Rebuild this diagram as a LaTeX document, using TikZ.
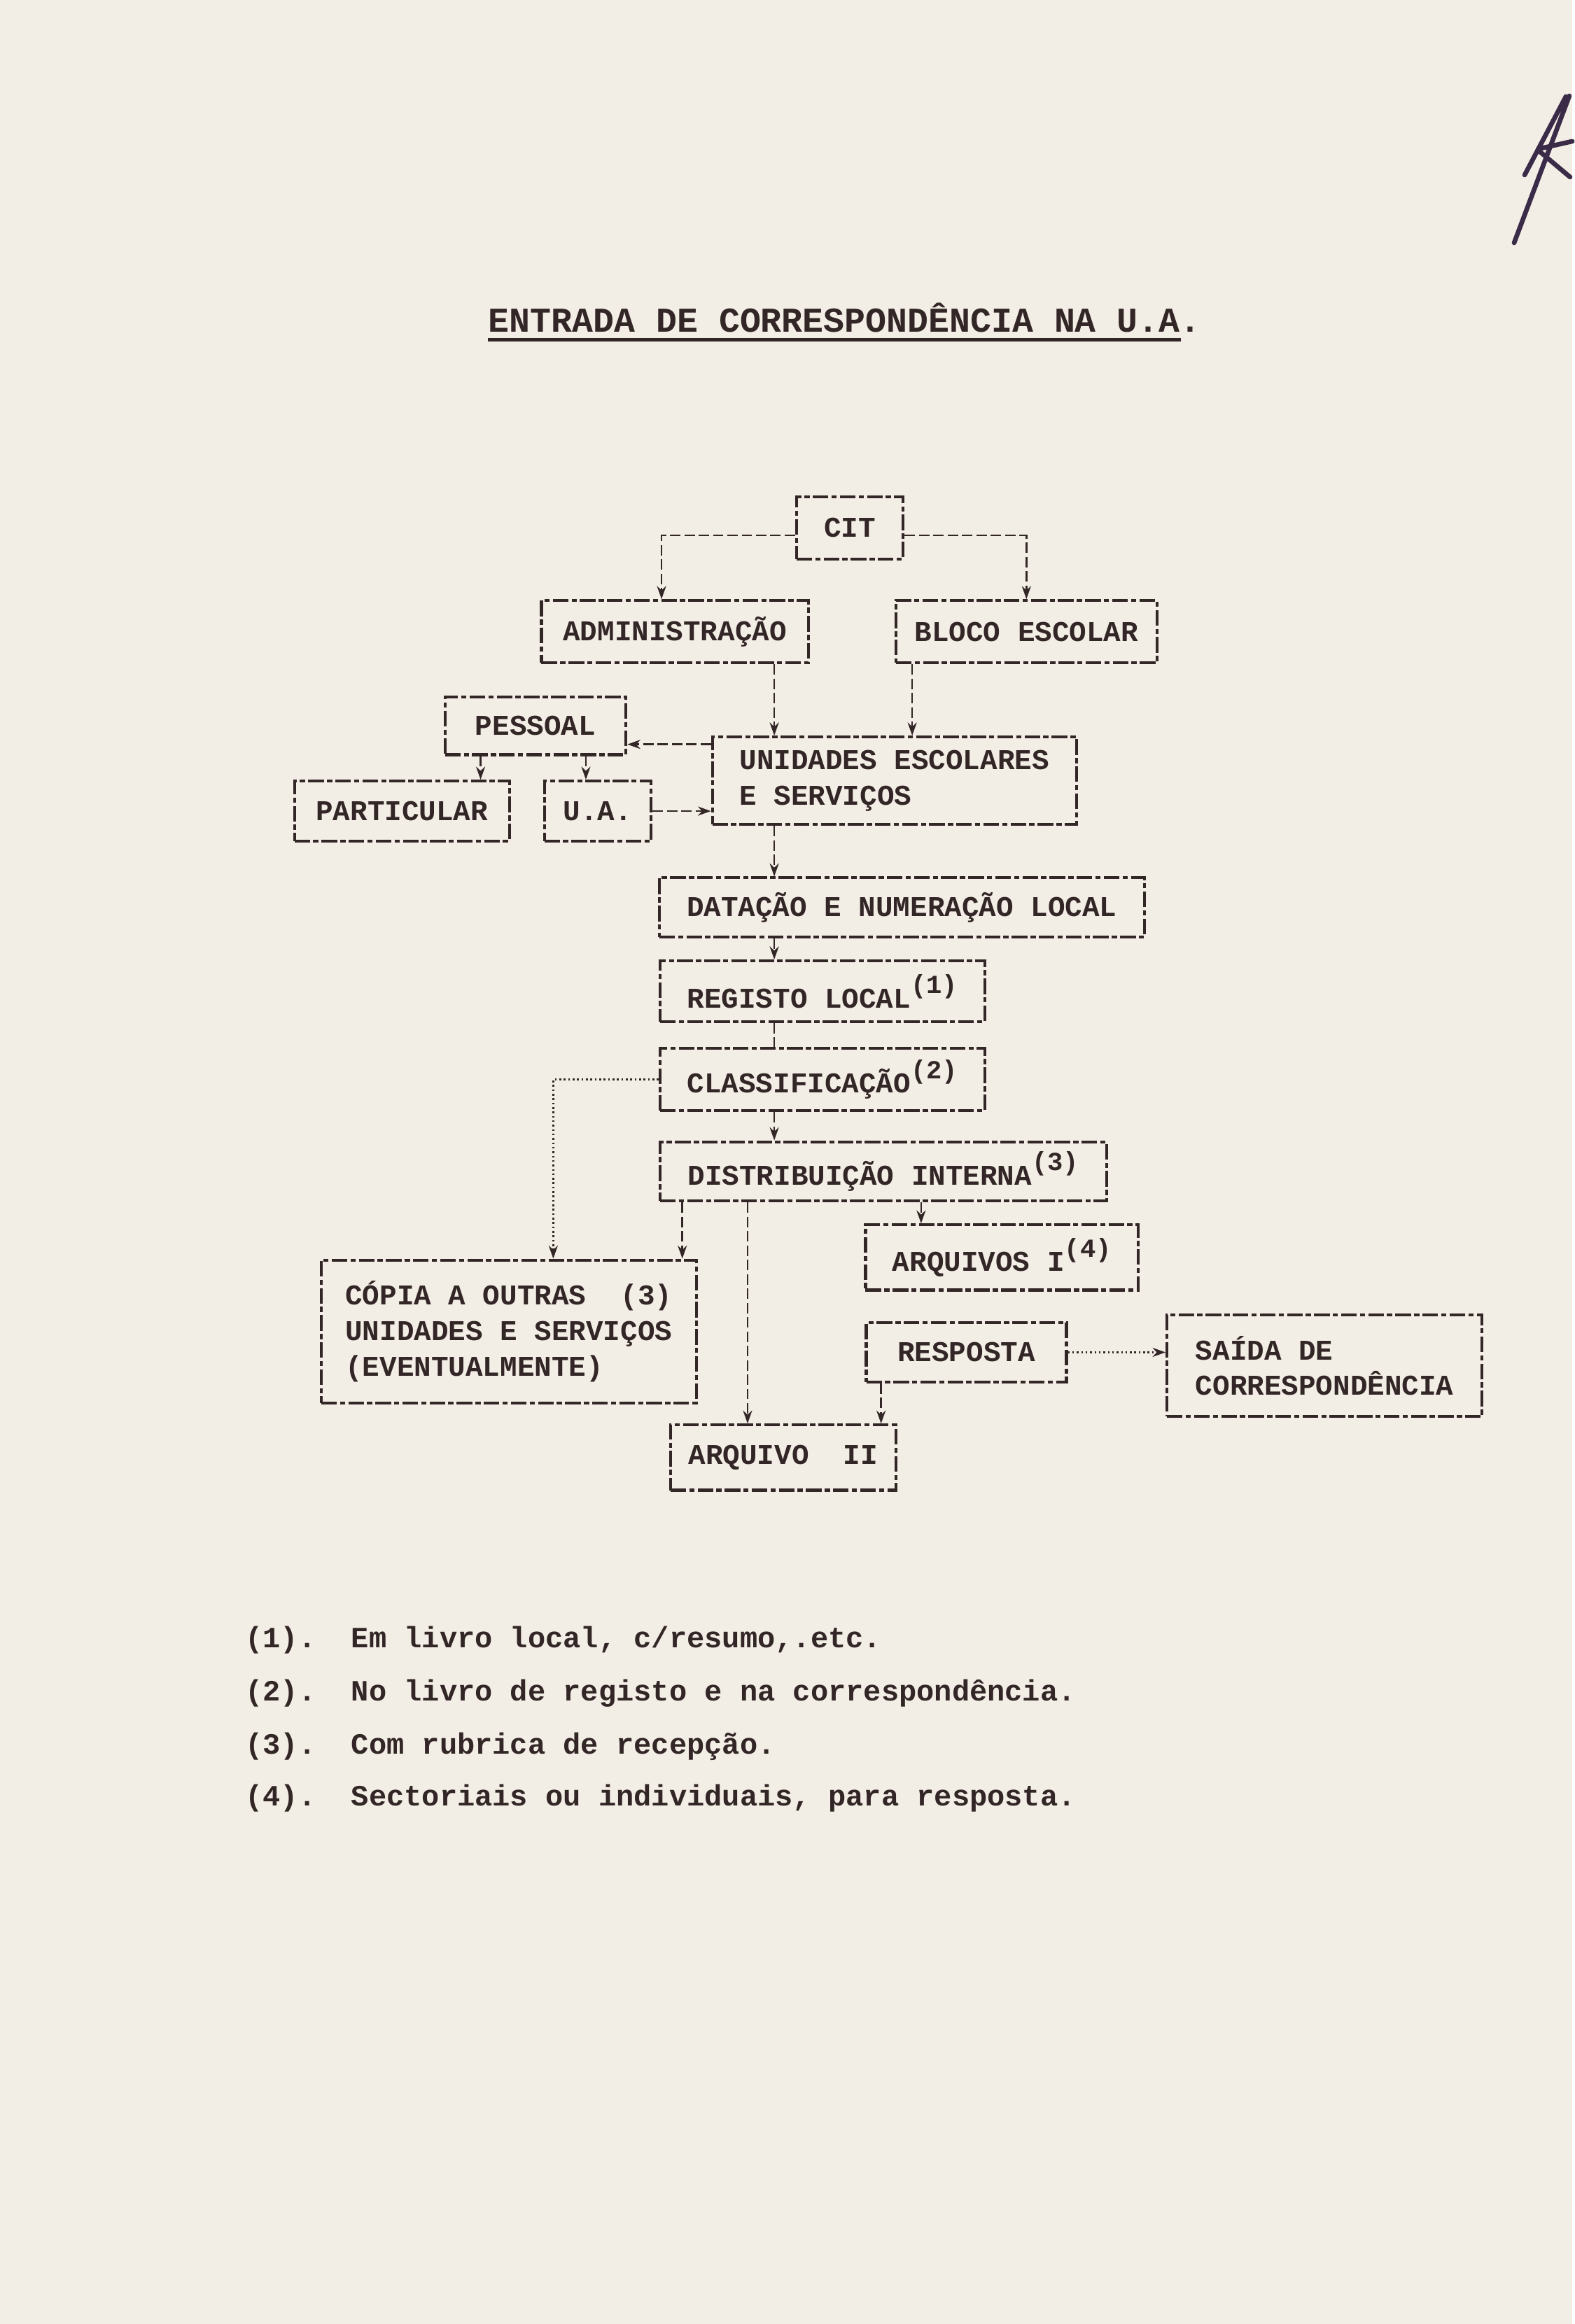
\documentclass[tikz,border=0pt]{standalone}
\usepackage{fontspec}
\setmainfont{Liberation Mono}
\usepackage{xcolor}
\usetikzlibrary{arrows.meta,positioning,calc}
\definecolor{papel}{RGB}{243,238,229}
\definecolor{tinta}{RGB}{50,38,38}
\definecolor{caneta}{RGB}{58,44,72}
\newcommand{\nota}[1]{\raisebox{5.5pt}{\fontsize{10}{10}\selectfont(#1)}}

\begin{document}
\begin{tikzpicture}[x=0.02cm, y=-0.02cm,
    caixa/.style={draw=tinta, line width=1.1pt, dash pattern=on 6pt off 1.2pt on 2pt off 1.2pt, inner sep=0pt, text=tinta, font=\bfseries\fontsize{11}{13.6}\selectfont},
    multi/.style={caixa, align=left},
    linha/.style={draw=tinta, line width=0.7pt, dash pattern=on 4pt off 1.5pt},
    seta/.style={linha, -{Stealth[length=5pt,width=3.5pt]}},
    titulo/.style={text=tinta, font=\bfseries\fontsize{13.4}{15}\selectfont, inner sep=0pt},
    rotulo/.style={text=tinta, font=\bfseries\fontsize{11.3}{13}\selectfont, anchor=base west, inner sep=0pt}
]

% page
\fill[papel] (0,0) rectangle (1060,1567.3);

% title
\node[titulo, anchor=base west] (titulo) at (329,224) {ENTRADA DE CORRESPONDÊNCIA NA U.A.};
\draw[tinta, line width=1.3pt] ([yshift=-0.1cm]titulo.base west) -- ([xshift=-0.28cm, yshift=-0.1cm]titulo.base east);

% boxes
\node[caixa, minimum width=1.44cm, minimum height=0.84cm] (cit) at (573,356) {CIT};
\node[caixa, minimum width=3.6cm, minimum height=0.84cm] (admin) at (455,426) {ADMINISTRAÇÃO};
\node[caixa, minimum width=3.52cm, minimum height=0.84cm] (bloco) at (692,426) {BLOCO ESCOLAR};
\node[caixa, minimum width=2.44cm, minimum height=0.78cm] (pessoal) at (361,489.5) {PESSOAL};
\node[caixa, minimum width=2.9cm, minimum height=0.81cm] (particular) at (271,547) {PARTICULAR};
\node[caixa, minimum width=1.44cm, minimum height=0.81cm] (ua) at (403,547) {U.A.};
\node[multi, minimum width=4.91cm, minimum height=1.18cm] (unidades) at (603,526.5) {UNIDADES ESCOLARES\\E SERVIÇOS};
\node[caixa, minimum width=6.54cm, minimum height=0.8cm] (datacao) at (608,612) {DATAÇÃO E NUMERAÇÃO LOCAL};
\node[caixa, minimum width=4.38cm, minimum height=0.82cm] (registo) at (554.5,668.5) {REGISTO LOCAL\nota{1}};
\node[caixa, minimum width=4.38cm, minimum height=0.84cm] (classif) at (554.5,728) {CLASSIFICAÇÃO\nota{2}};
\node[caixa, minimum width=6.02cm, minimum height=0.8cm] (distrib) at (595.5,790) {DISTRIBUIÇÃO INTERNA\nota{3}};
\node[caixa, minimum width=3.68cm, minimum height=0.88cm] (arqI) at (675.5,848) {ARQUIVOS I\nota{4}};
\node[caixa, minimum width=2.7cm, minimum height=0.8cm] (resposta) at (651.5,912) {RESPOSTA};
\node[multi, minimum width=4.25cm, minimum height=1.37cm] (saida) at (893,921) {SAÍDA DE\\CORRESPONDÊNCIA};
\node[multi, minimum width=5.06cm, minimum height=1.93cm] (copia) at (343,898) {CÓPIA A OUTRAS\hspace{1.2em}(3)\\UNIDADES E SERVIÇOS\\(EVENTUALMENTE)};
\node[caixa, minimum width=3.04cm, minimum height=0.88cm] (arqII) at (528,983) {ARQUIVO\hspace{1.2em}II};

% columns of the connectors
\coordinate (eixo) at (522,0);
\coordinate (cAdm) at (446,0);
\coordinate (cBloco) at (615,0);
\coordinate (cPart) at (324,0);
\coordinate (cUA) at (395,0);
\coordinate (lPes) at (0,502);
\coordinate (lCit) at (0,361);
\coordinate (cCopia) at (373,0);
\coordinate (cDistA) at (460,0);
\coordinate (cDistB) at (504,0);
\coordinate (cArqI) at (621,0);
\coordinate (cResp) at (594,0);

% connectors
\draw[seta] (cit.west |- lCit) -| (admin.north -| cAdm);
\draw[seta] (cit.east |- lCit) -| (bloco.north);
\draw[seta] (admin.south -| eixo) -- (unidades.north -| eixo);
\draw[seta] (bloco.south -| cBloco) -- (unidades.north -| cBloco);
\draw[seta] (unidades.west |- lPes) -- (pessoal.east |- lPes);
\draw[seta] (pessoal.south -| cPart) -- (particular.north -| cPart);
\draw[seta] (pessoal.south -| cUA) -- (ua.north -| cUA);
\draw[seta] (ua.east) -- (unidades.west |- ua.east);
\draw[seta] (unidades.south -| eixo) -- (datacao.north -| eixo);
\draw[seta] (datacao.south -| eixo) -- (registo.north -| eixo);
\draw[linha] (registo.south -| eixo) -- (classif.north -| eixo);
\draw[seta] (classif.south -| eixo) -- (distrib.north -| eixo);
\draw[seta, densely dotted] (classif.west) -| (copia.north -| cCopia);
\draw[seta] (distrib.south -| cDistA) -- (copia.north -| cDistA);
\draw[seta] (distrib.south -| cDistB) -- (arqII.north -| cDistB);
\draw[seta] (distrib.south -| cArqI) -- (arqI.north -| cArqI);
\draw[seta] (resposta.south -| cResp) -- (arqII.north -| cResp);
\draw[seta, densely dotted] (resposta.east) -- (saida.west |- resposta.east);

% notes
\node[rotulo] (n1) at (165,1111) {(1).\hspace{1.2em}Em livro local, c/resumo,.etc.};
\node[rotulo] (n2) at (165,1147) {(2).\hspace{1.2em}No livro de registo e na correspondência.};
\node[rotulo] (n3) at (165,1183) {(3).\hspace{1.2em}Com rubrica de recepção.};
\node[rotulo] (n4) at (165,1218) {(4).\hspace{1.2em}Sectoriais ou individuais, para resposta.};

% hand mark
\draw[caneta, line width=1.8pt, line cap=round]
    (1020.8,163.8) -- (1058,64.7)
    (1027.9,118) -- (1055.7,65.1)
    (1036.9,100.5) -- (1060,95.3)
    (1038.3,102.4) -- (1058.5,119.4);

\end{tikzpicture}
\end{document}
